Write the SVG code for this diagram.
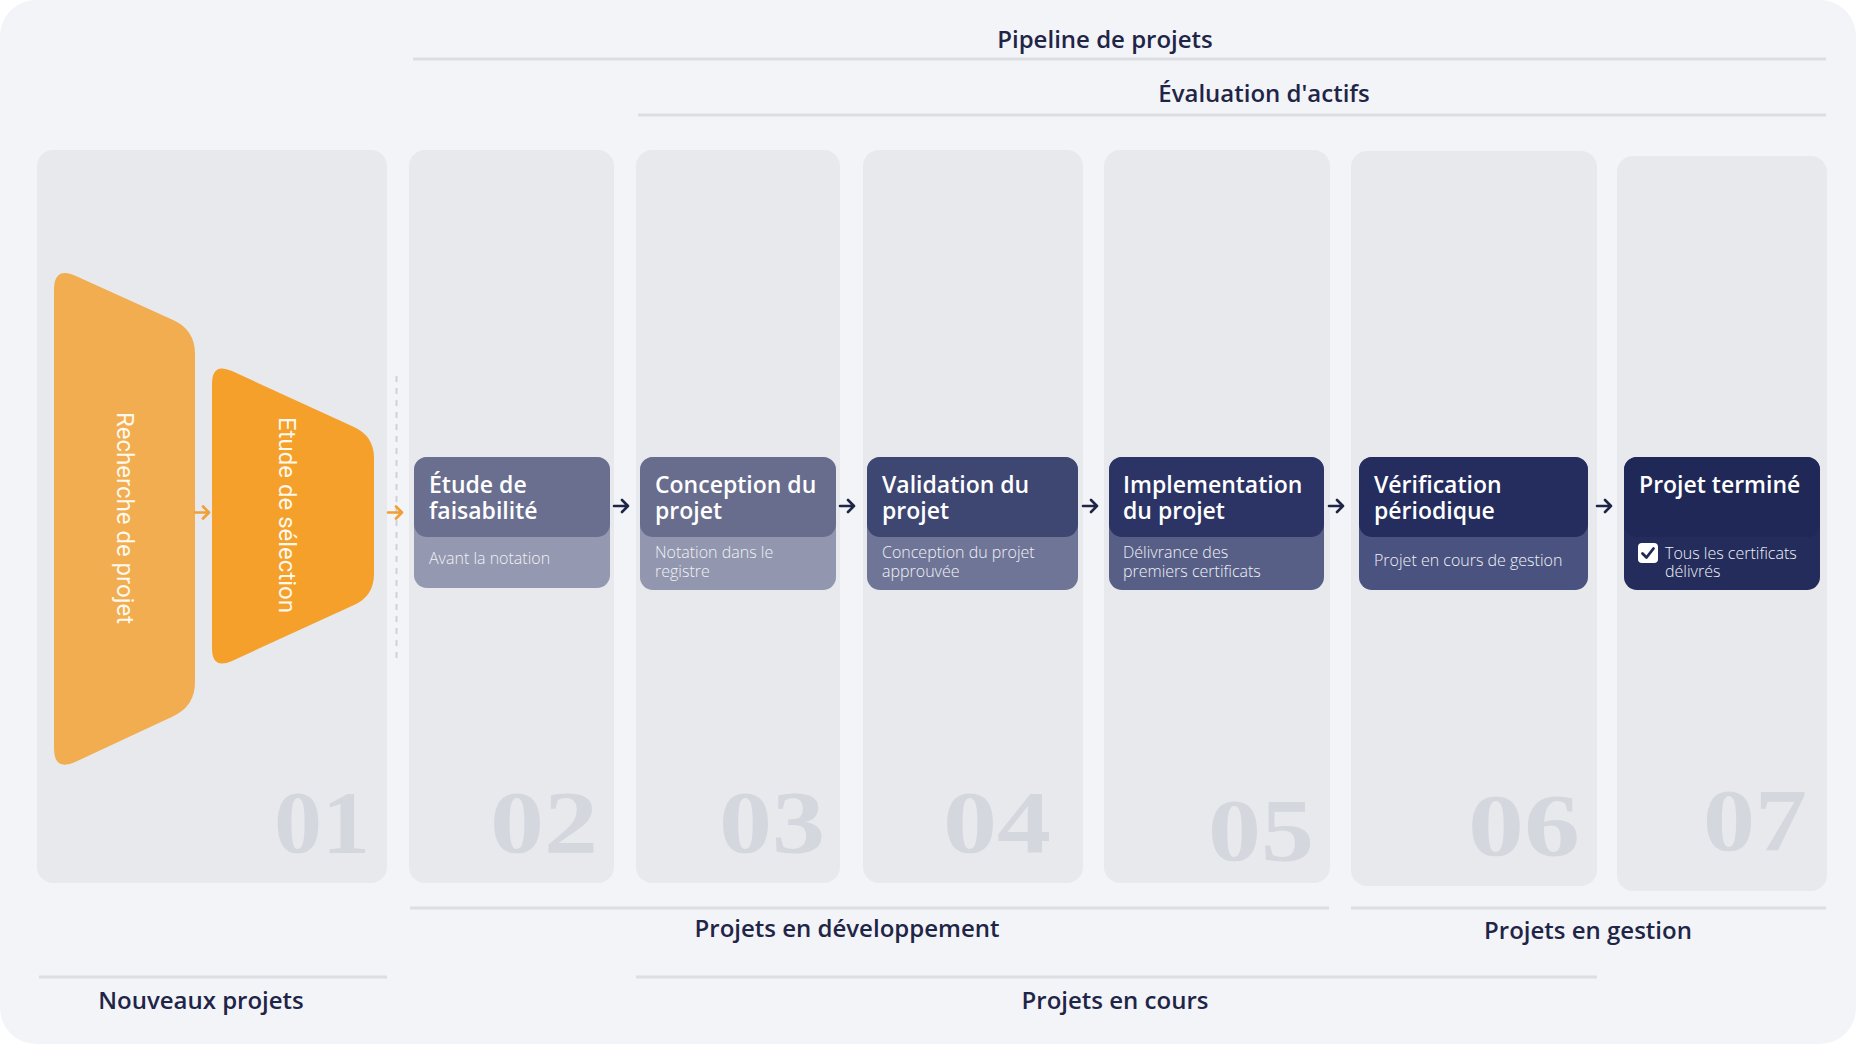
<svg xmlns="http://www.w3.org/2000/svg" width="1856" height="1044" viewBox="0 0 1856 1044">
<style>
.col{fill:#e8e9ed}
.rule{stroke:#dcdee3;stroke-width:3;fill:none}
.lbl{font-family:"Open Sans","Liberation Sans",sans-serif;font-weight:600;font-size:24px;fill:#1f2547;text-anchor:middle}
.ttl{font-family:"Open Sans","Liberation Sans",sans-serif;font-weight:600;font-size:23px;fill:#ffffff}
.sub{font-family:"Open Sans","Liberation Sans",sans-serif;font-weight:300;font-size:16px;fill:#f1f2f6}
.num{font-family:"Liberation Serif","DejaVu Serif",serif;font-weight:700;font-size:88px;fill:#d4d7de;text-anchor:end}
.vt{font-family:Roboto,"Liberation Sans",sans-serif;font-size:24px;fill:#fff8ec;text-anchor:middle;dominant-baseline:central}
.arr{stroke:#1f2547;stroke-width:2.6;fill:none;stroke-linecap:round;stroke-linejoin:round}
.oarr{stroke:#f0a035;stroke-width:2.6;fill:none;stroke-linecap:round;stroke-linejoin:round}
</style>
<rect x="0" y="0" width="1856" height="1044" fill="#ffffff"/>
<rect x="0" y="0" width="1856" height="1044" rx="36" fill="#f3f4f7"/>

<g id="columns">
<rect class="col" x="37" y="150" width="350" height="733" rx="16"/>
<rect class="col" x="409" y="150" width="205" height="733" rx="16"/>
<rect class="col" x="636" y="150" width="204" height="733" rx="16"/>
<rect class="col" x="863" y="150" width="220" height="733" rx="16"/>
<rect class="col" x="1104" y="150" width="226" height="733" rx="16"/>
<rect class="col" x="1351" y="151" width="246" height="735" rx="16"/>
<rect class="col" x="1617" y="156" width="210" height="735" rx="16"/>
</g>

<g id="numbers">
<text class="num" x="370" y="852" textLength="96" lengthAdjust="spacingAndGlyphs">01</text>
<text class="num" x="598" y="852" textLength="108" lengthAdjust="spacingAndGlyphs">02</text>
<text class="num" x="825" y="852" textLength="106" lengthAdjust="spacingAndGlyphs">03</text>
<text class="num" x="1051" y="852" textLength="108" lengthAdjust="spacingAndGlyphs">04</text>
<text class="num" x="1314" y="860" textLength="106" lengthAdjust="spacingAndGlyphs">05</text>
<text class="num" x="1580" y="855" textLength="112" lengthAdjust="spacingAndGlyphs">06</text>
<text class="num" x="1807" y="850" textLength="104" lengthAdjust="spacingAndGlyphs">07</text>
</g>

<g id="headers">
<line class="rule" x1="413" y1="59" x2="1826" y2="59"/>
<text class="lbl" x="1105" y="48">Pipeline de projets</text>
<line class="rule" x1="638" y1="115" x2="1826" y2="115"/>
<text class="lbl" x="1264" y="102">Évaluation d'actifs</text>
<line class="rule" x1="410" y1="908" x2="1329" y2="908"/>
<text class="lbl" x="847" y="937">Projets en développement</text>
<line class="rule" x1="1351" y1="908" x2="1826" y2="908"/>
<text class="lbl" x="1588" y="939">Projets en gestion</text>
<line class="rule" x1="39" y1="977" x2="387" y2="977"/>
<text class="lbl" x="201" y="1009">Nouveaux projets</text>
<line class="rule" x1="636" y1="977" x2="1597" y2="977"/>
<text class="lbl" x="1115" y="1009">Projets en cours</text>
</g>

<g id="node-recherche">
<path d="M54 290 Q54 266 75.9 275.9 L173.1 320.1 Q195 330 195 354 L195 682 Q195 706 173.3 716.2 L75.7 761.8 Q54 772 54 748 Z" fill="#f1ad4f"/>
<text class="vt" transform="translate(125 518) rotate(90)">Recherche de projet</text>
</g>

<g id="node-selection">
<path d="M212 384 Q212 362 232 371.1 L354 426.9 Q374 436 374 458 L374 574 Q374 596 354 605.1 L232 660.9 Q212 670 212 648 Z" fill="#f4a02b"/>
<text class="vt" transform="translate(287 515) rotate(90)">Etude de sélection</text>
</g>

<g id="node-faisabilite">
<rect x="414" y="457" width="196" height="131" rx="13" fill="#9498b0"/>
<rect x="414" y="457" width="196" height="80" rx="13" fill="#6a6f8f"/>
<text class="ttl" x="429" y="493">Étude de</text>
<text class="ttl" x="429" y="519">faisabilité</text>
<text class="sub" x="429" y="564">Avant la notation</text>
</g>

<g id="node-conception">
<rect x="640" y="457" width="196" height="133" rx="13" fill="#9296ae"/>
<rect x="640" y="457" width="196" height="80" rx="13" fill="#686d8d"/>
<text class="ttl" x="655" y="493">Conception du</text>
<text class="ttl" x="655" y="519">projet</text>
<text class="sub" x="655" y="558">Notation dans le</text>
<text class="sub" x="655" y="577">registre</text>
</g>

<g id="node-validation">
<rect x="867" y="457" width="211" height="133" rx="13" fill="#6f7597"/>
<rect x="867" y="457" width="211" height="80" rx="13" fill="#3e4672"/>
<text class="ttl" x="882" y="493">Validation du</text>
<text class="ttl" x="882" y="519">projet</text>
<text class="sub" x="882" y="558">Conception du projet</text>
<text class="sub" x="882" y="577">approuvée</text>
</g>

<g id="node-implementation">
<rect x="1109" y="457" width="215" height="133" rx="13" fill="#575f86"/>
<rect x="1109" y="457" width="215" height="80" rx="13" fill="#2b3464"/>
<text class="ttl" x="1123" y="493">Implementation</text>
<text class="ttl" x="1123" y="519">du projet</text>
<text class="sub" x="1123" y="558">Délivrance des</text>
<text class="sub" x="1123" y="577">premiers certificats</text>
</g>

<g id="node-verification">
<rect x="1359" y="457" width="229" height="133" rx="13" fill="#4a5380"/>
<rect x="1359" y="457" width="229" height="80" rx="13" fill="#242d5d"/>
<text class="ttl" x="1374" y="493">Vérification</text>
<text class="ttl" x="1374" y="519">périodique</text>
<text class="sub" x="1374" y="566">Projet en cours de gestion</text>
</g>

<g id="node-termine">
<rect x="1624" y="457" width="196" height="133" rx="13" fill="#232c5b"/>
<rect x="1624" y="457" width="196" height="80" rx="13" fill="#1f2857"/>
<text class="ttl" x="1639" y="493">Projet terminé</text>
<rect x="1638" y="543" width="20" height="20" rx="4" fill="#ffffff"/>
<path d="M1642.5 553.5 L1646.5 557.5 L1653.5 548.5" stroke="#1f2857" stroke-width="2.8" fill="none" stroke-linecap="round" stroke-linejoin="round"/>
<text class="sub" x="1665" y="559">Tous les certificats</text>
<text class="sub" x="1665" y="577">délivrés</text>
</g>

<g id="connectors">
<line x1="396.5" y1="376" x2="396.5" y2="663" stroke="#cfd2d9" stroke-width="2" stroke-dasharray="6 6"/>
<path class="oarr" d="M195 512.5 H209 M203 506.5 L209 512.5 L203 518.5"/>
<path class="oarr" d="M388 512.5 H402 M396 506.5 L402 512.5 L396 518.5"/>
<path class="arr" d="M614 506 H628 M622 500 L628 506 L622 512"/>
<path class="arr" d="M840 506 H854 M848 500 L854 506 L848 512"/>
<path class="arr" d="M1083 506 H1097 M1091 500 L1097 506 L1091 512"/>
<path class="arr" d="M1329 506 H1343 M1337 500 L1343 506 L1337 512"/>
<path class="arr" d="M1597 506 H1611 M1605 500 L1611 506 L1605 512"/>
</g>
</svg>
